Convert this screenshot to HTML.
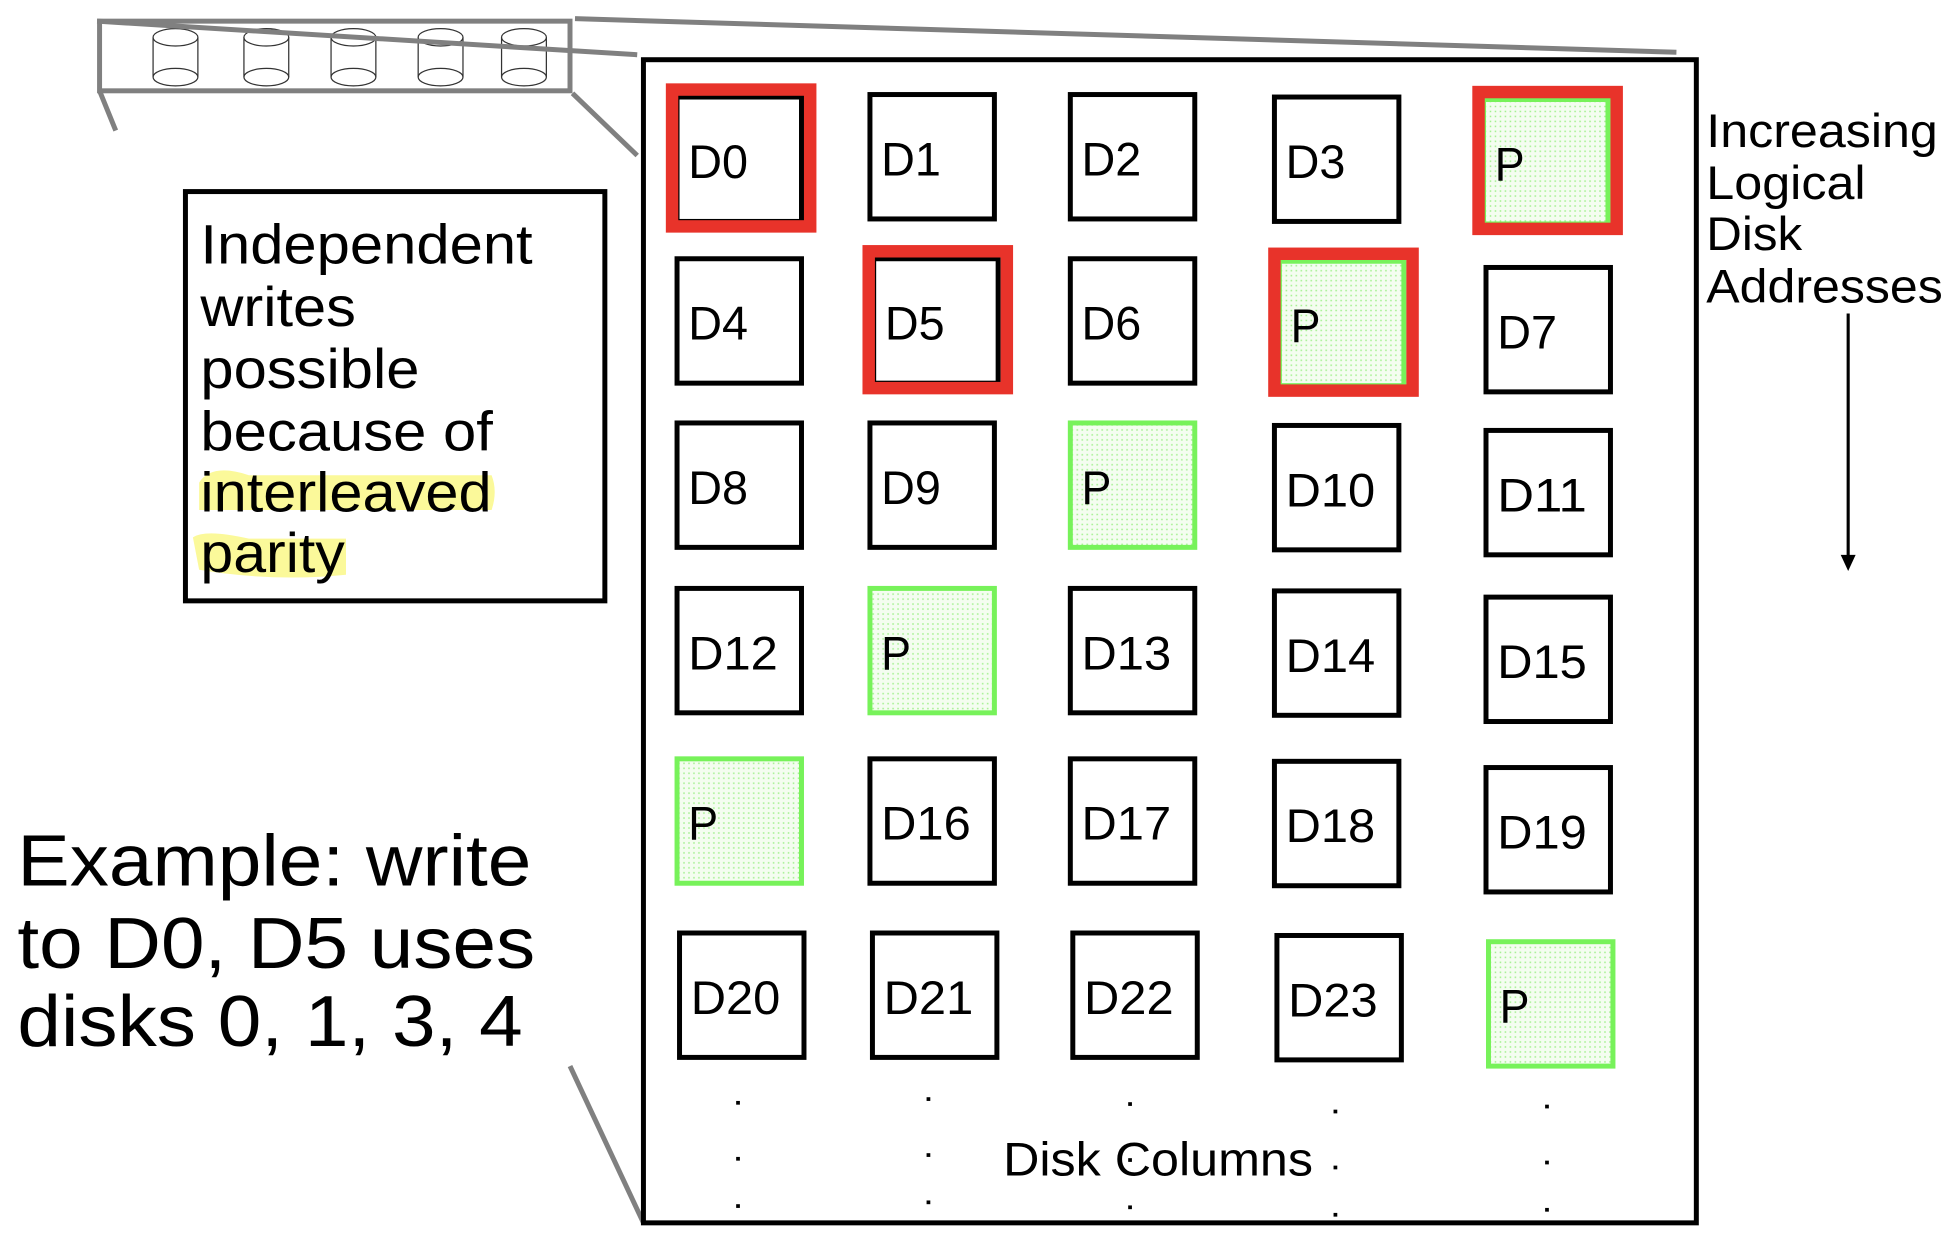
<!DOCTYPE html>
<html><head><meta charset="utf-8"><style>
html,body{margin:0;padding:0;background:#fff;}
svg{display:block;}
text{font-family:"Liberation Sans",sans-serif;fill:#000;}
</style></head><body>
<svg width="1944" height="1244" viewBox="0 0 1562 1000" preserveAspectRatio="none" xmlns="http://www.w3.org/2000/svg">
<defs>
<pattern id="dots" width="4" height="4" patternUnits="userSpaceOnUse">
<rect width="4" height="4" fill="#f4fdf0"/><rect x="1" y="1" width="1.2" height="1.2" fill="#9ff08a"/>
</pattern>
</defs>
<g stroke="#808080" fill="none">
<rect x="80" y="17" width="378" height="56" stroke-width="4"/>
<g stroke="#333" stroke-width="1" fill="#fff" id="cyls"></g>
<line x1="78" y1="17" x2="512" y2="44" stroke-width="4"/>
<line x1="462" y1="15" x2="1347" y2="42" stroke-width="4"/>
<line x1="80" y1="73" x2="93" y2="105" stroke-width="4"/>
<line x1="460" y1="75" x2="512" y2="125" stroke-width="4"/>
<line x1="458" y1="857" x2="517" y2="983" stroke-width="4"/>
</g>
<rect x="517" y="48" width="846" height="935" fill="none" stroke="#000" stroke-width="4"/>
<g id="blocks"></g>
<g>
<rect x="149" y="154" width="337" height="329" fill="#fff" stroke="#000" stroke-width="4"/>
<path d="M160 388 Q170 372 200 382 L395 382 Q400 395 395 410 L160 410 Z" fill="#fbf99a"/>
<path d="M155 432 Q165 425 200 433 L278 433 L278 462 Q220 468 160 458 Z" fill="#fbf99a"/>
<text x="161" y="212" font-size="45" textLength="267" lengthAdjust="spacingAndGlyphs">Independent</text>
<text x="161" y="262" font-size="45" textLength="125" lengthAdjust="spacingAndGlyphs">writes</text>
<text x="161" y="312" font-size="45" textLength="176" lengthAdjust="spacingAndGlyphs">possible</text>
<text x="161" y="362" font-size="45" textLength="235" lengthAdjust="spacingAndGlyphs">because of</text>
<text x="161" y="411" font-size="45" textLength="234" lengthAdjust="spacingAndGlyphs">interleaved</text>
<text x="161" y="460" font-size="45" textLength="116" lengthAdjust="spacingAndGlyphs">parity</text>
</g>
<g>
<text x="14" y="712" font-size="58" textLength="413" lengthAdjust="spacingAndGlyphs">Example: write</text>
<text x="14" y="778" font-size="58" textLength="416" lengthAdjust="spacingAndGlyphs">to D0, D5 uses</text>
<text x="14" y="841" font-size="58" textLength="406" lengthAdjust="spacingAndGlyphs">disks 0, 1, 3, 4</text>
</g>
<g>
<text x="1371" y="118" font-size="38" textLength="186" lengthAdjust="spacingAndGlyphs">Increasing</text>
<text x="1371" y="160" font-size="38" textLength="128" lengthAdjust="spacingAndGlyphs">Logical</text>
<text x="1371" y="201" font-size="38" textLength="77" lengthAdjust="spacingAndGlyphs">Disk</text>
<text x="1371" y="243" font-size="38" textLength="190" lengthAdjust="spacingAndGlyphs">Addresses</text>
<line x1="1485" y1="252" x2="1485" y2="450" stroke="#000" stroke-width="2.5"/>
<path d="M1479 446 L1491 446 L1485 459 Z" fill="#000"/>
</g>
<text x="806" y="945" font-size="38" textLength="249" lengthAdjust="spacingAndGlyphs">Disk Columns</text>
<g id="dotsg" fill="#000"></g>
</svg>
<script>
const labels=[["D0","D1","D2","D3","P"],["D4","D5","D6","P","D7"],["D8","D9","P","D10","D11"],["D12","P","D13","D14","D15"],["P","D16","D17","D18","D19"],["D20","D21","D22","D23","P"]];
const xs=[[544,699,860,1024,1192],[544,702,860,1028,1194],[544,699,860,1024,1194],[544,699,860,1024,1194],[544,699,860,1024,1194],[546,701,862,1026,1196]];
const ys=[[78,76,76,78,80],[208,208,208,210,215],[340,340,340,342,346],[473,473,473,475,480],[610,610,610,612,617],[750,750,750,752,757]];
const reds=[[0,0],[0,4],[1,1],[1,3]];
const NS="http://www.w3.org/2000/svg";
const g=document.getElementById('blocks');
function mk(t,a){const e=document.createElementNS(NS,t);for(const k in a)e.setAttribute(k,a[k]);return e;}
labels.forEach((row,r)=>row.forEach((lab,c)=>{
 const x=xs[r][c],y=ys[r][c],p=lab==="P";
 const grp=mk('g',{});
 
 
 grp.appendChild(mk('rect',{x:x,y:y,width:100,height:100,fill:p?'url(#dots)':'#fff',stroke:p?'#77f25a':'#000','stroke-width':4}));
 const t=mk('text',{x:x+9,y:y+65,'font-size':38,textLength:lab.length*24,lengthAdjust:'spacingAndGlyphs'});t.textContent=lab;grp.appendChild(t);
 g.appendChild(grp);
}));
reds.forEach(([r,c])=>{
 const x=xs[r][c],y=ys[r][c];
 const e=mk('rect',{x:x-4,y:y-6,width:111,height:110,fill:'none',stroke:'#e8332a','stroke-width':10});
 
 
 g.appendChild(e);
});
const cy=document.getElementById('cyls');
[141,214,284,354,421].forEach(cx=>{
 const e=mk('g',{});
 
 
 e.appendChild(mk('rect',{x:cx-18,y:30,width:36,height:32,stroke:'none'}));
 e.appendChild(mk('line',{x1:cx-18,y1:30,x2:cx-18,y2:62}));
 e.appendChild(mk('line',{x1:cx+18,y1:30,x2:cx+18,y2:62}));
 e.appendChild(mk('ellipse',{cx:cx,cy:62,rx:18,ry:7}));
 e.appendChild(mk('ellipse',{cx:cx,cy:30,rx:18,ry:7}));
 cy.appendChild(e);
});
const dg=document.getElementById('dotsg');
[[593,885],[746,882],[908,886],[1073,892],[1243,888]].forEach(([x,y])=>{
 [0,45,83].forEach(dy=>{const d=mk('rect',{x:x-1.5,y:y+dy,width:3,height:3});
 
 
 dg.appendChild(d);});
});
</script>
</body></html>
